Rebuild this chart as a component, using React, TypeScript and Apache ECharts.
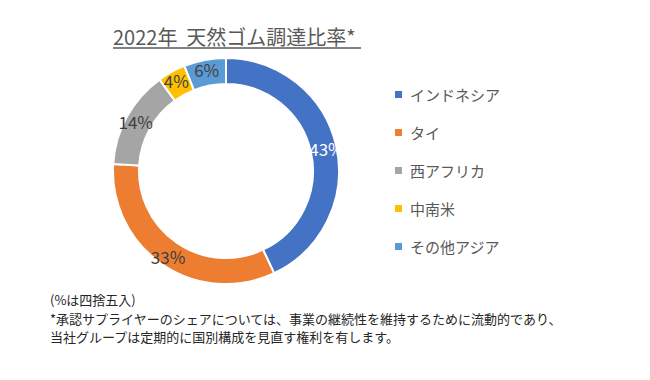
import React, { useEffect, useRef } from "react";
import * as echarts from "echarts";

const titleText = "2022年  天然ゴム調達比率*";
const categories = ["インドネシア", "タイ", "西アフリカ", "中南米", "その他アジア"];
const shares = [43, 33, 14, 4, 6];
const colors = ["#4472C4", "#ED7D31", "#A5A5A5", "#FFC000", "#5B9BD5"];
const labelColors = ["#FFFFFF", "#404040", "#404040", "#404040", "#404040"];
const noteLines = [
  "(%は四捨五入)",
  "*承認サプライヤーのシェアについては、事業の継続性を維持するために流動的であり、",
  "当社グループは定期的に国別構成を見直す権利を有します。",
];

const FONT = "'Noto Sans CJK JP', 'Noto Sans', sans-serif";

export default function App() {
  const ref = useRef<HTMLDivElement>(null);
  useEffect(() => {
    if (!ref.current) return;
    const chart = echarts.init(ref.current, undefined, { renderer: "svg" });
    chart.setOption({
      animation: false,
      backgroundColor: "#ffffff",
      textStyle: { fontFamily: FONT },
      legend: {
        orient: "vertical",
        left: 393,
        top: 87,
        padding: 0,
        icon: "rect",
        itemWidth: 9,
        itemHeight: 9,
        itemGap: 23,
        textStyle: { fontSize: 15, color: "#595959", fontFamily: FONT, padding: [0, 0, 0, 2] },
        data: categories,
      },
      series: [
        {
          type: "pie",
          center: [226, 171],
          radius: [87, 113],
          startAngle: 90,
          clockwise: true,
          silent: true,
          itemStyle: { borderColor: "#ffffff", borderWidth: 2 },
          label: {
            show: true,
            position: "inside",
            formatter: "{c}%",
            fontSize: 17,
            fontFamily: FONT,
          },
          labelLine: { show: false },
          data: categories.map((name, i) => ({
            name,
            value: shares[i],
            itemStyle: { color: colors[i] },
            label: { color: labelColors[i] },
          })),
        },
      ],
      graphic: [
        {
          type: "text",
          left: 113,
          top: 26,
          style: {
            text: titleText,
            fontSize: 20,
            fontWeight: "normal",
            fill: "#595959",
            fontFamily: FONT,
          },
        },
        {
          type: "line",
          shape: { x1: 113, y1: 48, x2: 361, y2: 48 },
          style: { stroke: "#595959", lineWidth: 1.5 },
        },
        ...noteLines.map((t, i) => ({
          type: "text",
          left: 50,
          top: 293 + i * 18.5,
          style: { text: t, fontSize: 13, fill: "#262626", fontFamily: FONT },
        })),
      ],
    });
    return () => chart.dispose();
  }, []);
  return (
    <div
      ref={ref}
      style={{ position: "absolute", left: 0, top: 0, width: 650, height: 380 }}
    />
  );
}
